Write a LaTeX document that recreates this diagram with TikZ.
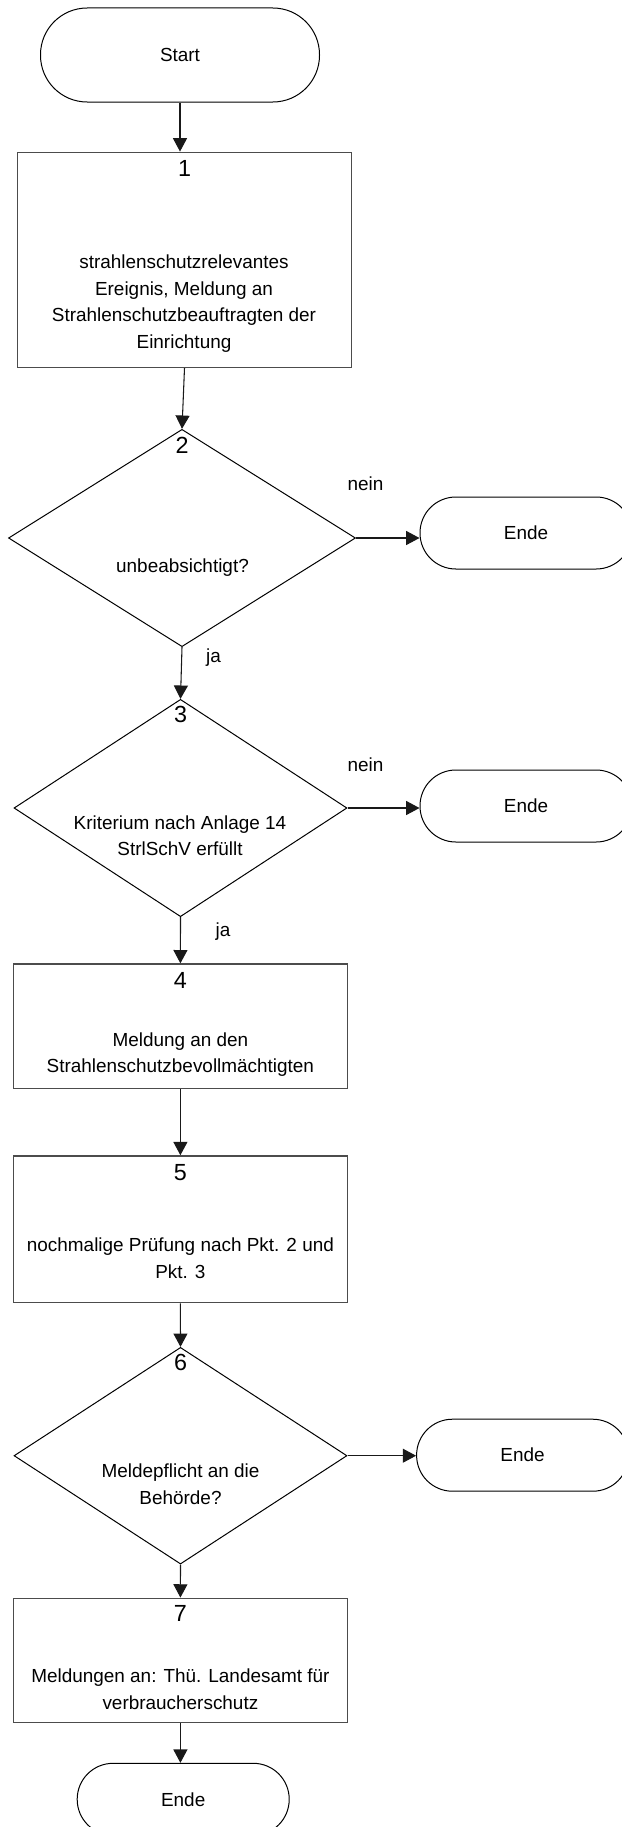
\documentclass[tikz,border=0pt]{standalone}
\usepackage{fontspec}
\setmainfont{Liberation Sans}
\usetikzlibrary{shapes.geometric,arrows.meta,calc}
\begin{document}
\begin{tikzpicture}[x=0.75pt,y=-0.75pt,
  txt/.style={font=\fontsize{14.2}{19.9}\selectfont, align=center, inner sep=0pt},
  num/.style={font=\fontsize{17.5}{21}\selectfont, inner sep=0pt},
  startterm/.style={draw=black, line width=0.75pt, rectangle, rounded corners=35pt,
    inner sep=0pt, minimum width=209.25pt, minimum height=70.5pt},
  endterm/.style={draw=black, line width=0.75pt, rectangle, rounded corners=26.9pt,
    inner sep=0pt, minimum width=159pt, minimum height=54pt},
  proc/.style={draw=black!70, line width=1.1pt, rectangle, inner sep=0pt, minimum width=250.35pt},
  dec/.style={draw=black, line width=0.75pt, diamond, inner sep=0pt, minimum width=249.75pt},
  conn/.style={draw=black!90, line width=0.8pt, -{Triangle[length=10pt,width=10.5pt]}},
]
\fill[white] (0,0) rectangle (621,1827);
\useasboundingbox (0,0) rectangle (621,1827);

% shapes
\node[startterm] (start) at (180,55) {};
\node[proc, minimum width=250.5pt, minimum height=161.25pt] (b1) at (184.5,259.8) {};
\node[dec, minimum width=260.25pt, minimum height=163pt] (d2) at (182,538) {};
\node[endterm] (e2) at (526,533) {};
\node[dec, minimum height=163pt] (d3) at (180.5,808) {};
\node[endterm] (e3) at (526,806) {};
\node[proc, minimum height=93.2pt] (b4) at (180.4,1026.2) {};
\node[proc, minimum height=110pt] (b5) at (180.4,1229.3) {};
\node[dec, minimum height=162.5pt] (d6) at (180.5,1455.7) {};
\node[endterm] (e6) at (522.6,1455.2) {};
\node[proc, minimum height=93pt] (b7) at (180.4,1660.3) {};
\node[endterm] (e7) at (183.2,1799.3) {};

% texts
\node[txt] (tstart) at (start.center) {Start};
\node[num] (n1) at ($(b1.north)+(0,16.7)$) {1};
\node[txt] (t1) at (184,303.5) {strahlenschutzrelevantes\\Ereignis, Meldung an\\Strahlenschutzbeauftragten der\\Einrichtung};
\node[num] (n2) at ($(d2.north)+(0,16.4)$) {2};
\node[txt] (t2) at (182.5,568) {unbeabsichtigt?};
\node[txt] (te2) at (e2.center) {Ende};
\node[num] (n3) at ($(d3.north)+(0,15.7)$) {3};
\node[txt] (t3) at (180,835.7) {Kriterium nach Anlage 14\\StrlSchV erfüllt};
\node[txt] (te3) at (e3.center) {Ende};
\node[num] (n4) at ($(b4.north)+(0,16.7)$) {4};
\node[txt] (t4) at (180.4,1054.7) {Meldung an den\\Strahlenschutzbevollmächtigten};
\node[num] (n5) at ($(b5.north)+(0,17.3)$) {5};
\node[txt] (t5) at (180.4,1258) {nochmalige Prüfung nach Pkt. 2 und\\Pkt. 3};
\node[num] (n6) at ($(d6.north)+(0,16)$) {6};
\node[txt] (t6) at (180.5,1484) {Meldepflicht an die\\Behörde?};
\node[txt] (te6) at (e6.center) {Ende};
\node[num] (n7) at ($(b7.north)+(0,16)$) {7};
\node[txt] (t7) at (180.4,1689) {Meldungen an: Thü. Landesamt für\\verbraucherschutz};
\node[txt] (te7) at (e7.center) {Ende};

% branch labels
\node[txt] (nein2) at (365.5,483.5) {nein};
\node[txt] (ja2) at (213.5,658) {ja};
\node[txt] (nein3) at (365.5,764.5) {nein};
\node[txt] (ja3) at (223,932) {ja};

% connectors
\draw[conn] (start.south) -- (start.south |- b1.north);
\draw[conn] (b1.south) -- (d2.north);
\draw[conn] (d2.east) -- (d2.east -| e2.west);
\draw[conn] (d2.south) -- (d3.north);
\draw[conn] (d3.east) -- (d3.east -| e3.west);
\draw[conn] (d3.south) -- (b4.north);
\draw[conn] (b4.south) -- (b5.north);
\draw[conn] (b5.south) -- (d6.north);
\draw[conn] (d6.east) -- (d6.east -| e6.west);
\draw[conn] (d6.south) -- (b7.north);
\draw[conn] (b7.south) -- (b7.south |- e7.north);
\end{tikzpicture}
\end{document}
